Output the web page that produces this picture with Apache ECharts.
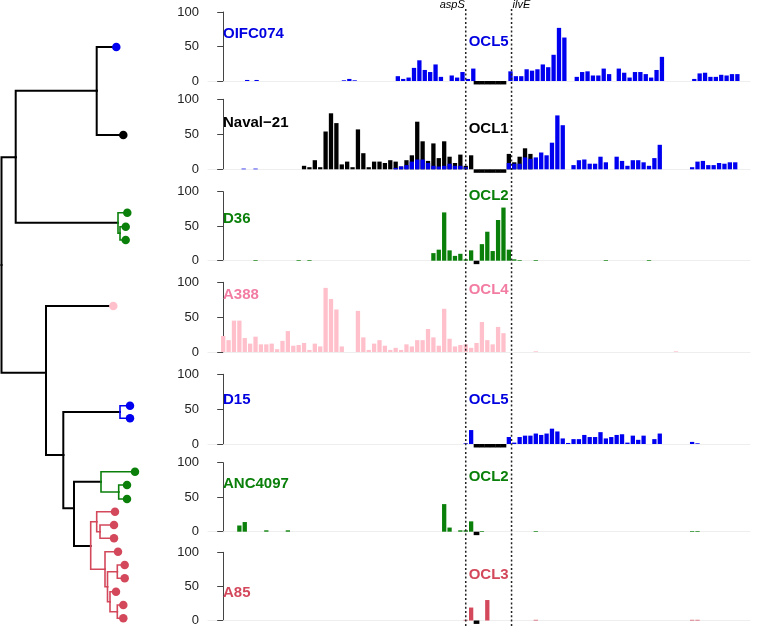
<!DOCTYPE html>
<html><head><meta charset="utf-8">
<script src="https://cdn.jsdelivr.net/npm/echarts@6/dist/echarts.min.js"></script>
<style>html,body{margin:0;padding:0;background:#fff}#c{width:757px;height:627px}</style>
</head><body><div id="c"></div>
<script>
// ================= DATA =================
const strains   = ['OIFC074', 'Naval\u221221', 'D36', 'A388', 'D15', 'ANC4097', 'A85'];
const oclLabels = ['OCL5', 'OCL1', 'OCL2', 'OCL4', 'OCL5', 'OCL2', 'OCL3'];
const geneNames = ['aspS', 'ilvE'];
const genePositions = [45.0, 53.5];          // genome bin position of the two flanking genes
const yTicks = [0, 50, 100];

// runs of bars: [start bin position, [values at start, start+1, ...]]
const oifc074Blue = [[4.45,[1.5]],[6.2,[1.5]],[22.4,[1,3,1]],[32.4,[7,3,5,19,30,16,13,24,6]],
  [42.4,[8,5,13,3,18]],[53.3,[14,7,7,17,15,17,24,20,38,77,63]],[65.6,[6,13,14,8,8,18,10]],
  [73.4,[18,12,5,13,13,10,5,16,35]],[87.4,[3,11,12,6,6,9,8,10,10]]];
const oifc074Gap  = [[47,[-5,-5,-5,-5,-5,-5]]];

const navalBlack = [[15,[5,3,13,3,54,80,66,7,11,3,57,23,3,11,11,9,13,11,4,13,20,68,40,12,37,16,40,18,9,21,5,20]],
  [53,[22,10,18,30,22]]];
const navalBlue  = [[3.8,[1]],[6,[1]],[32,[2,4,6,11,14,14,9,5,4,5,8,5,5,3]],
  [53,[9,8,8,17,15,17,24,20,38,77,63]],[65,[6,13,14,8,8,18,10]],[73,[18,12,5,13,13,10,5,16,35]],
  [87,[3,11,12,6,6,9,8,10,10]]];
const navalGap   = [[47,[-5,-5,-5,-5,-5,-5]]];

const d36Green = [[6,[1]],[14,[1]],[16,[1]],[39,[11,16,70,15,7,10,2,15]],[48,[24,42,14,59,77,16,2,1]],
  [58,[1]],[71,[1]],[79,[1]]];
const d36Gap   = [[47,[-5]]];

const a388Pink = [[0,[23,17,45,45,20,12,22,11,11,12,4,16,30,9,10,13,3,12,8,92,76,61,8]],
  [25,[59,21,3,12,17,9,3,6,3,11,8,17,17,33,21,9,62,19,8,10,11,6,13,43,17,11,36,27]],
  [58,[1]],[84,[1]]];
const a388Gap  = [];

const d15Blue = [[45,[1,20]],[53,[10,2,10,12,12,15,13,15,22,18,8,1.5,7,7,13,10,10,17,8,10,13,14,2,12,6,12]],
  [80,[7,15]],[87,[3,1]]];
const d15Gap  = [[47,[-5,-5,-5,-5,-5,-5]]];

const anc4097Green = [[3,[9,14]],[8,[2]],[12,[2]],[41,[40,6,0,2,2,15]],[48,[1]],[58,[1]],[87,[1,1]]];
const anc4097Gap   = [[47,[-5]]];

const a85Red = [[45,[1,19,0,0,30]],[58,[1]],[87,[1,1]]];
const a85Gap = [[47,[-5]]];

// tree: [id, parent, depth, y, edge colour key, tip colour key]
const treeNodes = [
  ['R',  null, 1.5, 265,  null, null],
  ['B',  'R', 15.7, 157.3, 'black', null],
  ['A',  'B', 96.7, 90.7,  'black', null],
  ['t1', 'A', 116.3, 47,   'black', 'blue'],
  ['t2', 'A', 123.3, 135,  'black', 'black'],
  ['G1', 'B', 118, 222.7,  'black', null],
  ['t3', 'G1', 127.3, 212.7, 'green', 'green'],
  ['G2', 'G1', 120, 233.3, 'green', null],
  ['t4', 'G2', 125.7, 226.7, 'green', 'green'],
  ['t5', 'G2', 125.7, 240, 'green', 'green'],
  ['C',  'R', 46, 372.7,   'black', null],
  ['t6', 'C', 113.3, 306,  'black', 'pink'],
  ['D',  'C', 63.3, 455,   'black', null],
  ['BL', 'D', 120, 412,    'black', null],
  ['t7', 'BL', 130, 405.7, 'blue', 'blue'],
  ['t8', 'BL', 130, 418.3, 'blue', 'blue'],
  ['E',  'D', 74, 508.3,   'black', null],
  ['GR', 'E', 101, 481.7,  'black', null],
  ['t9', 'GR', 135, 471.7, 'green', 'green'],
  ['GR2','GR', 118.7, 492, 'green', null],
  ['t10','GR2', 127, 485,  'green', 'green'],
  ['t11','GR2', 127, 499,  'green', 'green'],
  ['RD', 'E', 90.7, 546,   'black', null],
  ['R1', 'RD', 96.7, 521.7,'red', null],
  ['t12','R1', 115, 511.7, 'red', 'red'],
  ['R2', 'R1', 100, 531.7, 'red', null],
  ['t13','R2', 114, 525,   'red', 'red'],
  ['t14','R2', 114, 538.3, 'red', 'red'],
  ['R3', 'RD', 105, 569.3, 'red', null],
  ['t15','R3', 118, 551.7, 'red', 'red'],
  ['R4', 'R3', 107.5, 586.7,'red', null],
  ['R5', 'R4', 117.3, 571.7,'red', null],
  ['t16','R5', 124.7, 565, 'red', 'red'],
  ['t17','R5', 124.7, 578.3,'red', 'red'],
  ['R7', 'R4', 110, 601.7, 'red', null],
  ['t18','R7', 116, 591.7, 'red', 'red'],
  ['R8', 'R7', 117.3, 611.7,'red', null],
  ['t19','R8', 123.3, 605, 'red', 'red'],
  ['t20','R8', 123.3, 618.3,'red', 'red']
];

// ================= STYLE / LAYOUT =================
const COL = { blue:'#0000F0', black:'#000000', green:'#0A800A', pink:'#FFC0CB', red:'#D4485C' };
const TXT = { blue:'#0000E0', black:'#000000', green:'#0A800A', pink:'#F27CA2', red:'#D4485C' };
const FONT = '"Liberation Sans", Arial, Helvetica, sans-serif';

const panels = [
  { bars:[[oifc074Blue,'blue']], gap:oifc074Gap, tc:'blue' },
  { bars:[[navalBlack,'black'],[navalBlue,'blue']], gap:navalGap, tc:'black' },
  { bars:[[d36Green,'green']], gap:d36Gap, tc:'green' },
  { bars:[[a388Pink,'pink']], gap:a388Gap, tc:'pink' },
  { bars:[[d15Blue,'blue']], gap:d15Gap, tc:'blue' },
  { bars:[[anc4097Green,'green']], gap:anc4097Gap, tc:'green' },
  { bars:[[a85Red,'red']], gap:a85Gap, tc:'red' }
];
const panelTop  = [12, 99.3, 191.7, 282.3, 374.3, 462.7, 552.3];
const panelZero = [81, 169.3, 260.7, 352, 444, 531.7, 621.7];
const strainLabelY = [34, 123.3, 219.3, 295, 400, 484, 592.7];
const oclLabelY    = [41.7, 129.3, 196, 290, 400, 476.7, 575];
const X_MIN = -2.82, X_MAX = 97.74, GRID_LEFT = 208, GRID_RIGHT = 7;

function expand(runs) {
  const out = [];
  runs.forEach(([s, vals]) => vals.forEach((v, k) => { if (v !== 0) out.push([s + k, v]); }));
  return out;
}

const grid = [], xAxis = [], yAxis = [], series = [];
panels.forEach((p, i) => {
  grid.push({ left: GRID_LEFT, right: GRID_RIGHT, top: panelTop[i], height: panelZero[i] - panelTop[i] });
  yAxis.push({
    gridIndex: i, type: 'value', min: yTicks[0], max: yTicks[2], interval: yTicks[1] - yTicks[0],
    axisLine: { show: true, lineStyle: { color: '#444', width: 1 } },
    axisTick: { show: true, length: 6, lineStyle: { color: '#444', width: 1 } },
    axisLabel: { fontSize: 13, color: '#222', margin: 9, fontFamily: FONT },
    splitLine: { show: false }
  });
  for (let k = 0; k < 3; k++) {
    xAxis.push({
      gridIndex: i, type: 'value', min: X_MIN, max: X_MAX,
      show: k === 0,
      axisLine: { show: k === 0, onZero: true, lineStyle: { color: '#eeeeee', width: 1 } },
      axisTick: { show: false }, axisLabel: { show: false }, splitLine: { show: false }
    });
  }
  p.bars.forEach(([runs, c], k) => {
    series.push({
      type: 'bar', xAxisIndex: i * 3 + k, yAxisIndex: i, data: expand(runs),
      barWidth: 4.3, clip: false, silent: true, animation: false,
      itemStyle: { color: COL[c] }
    });
  });
  if (p.gap.length) {
    series.push({
      type: 'bar', xAxisIndex: i * 3 + 2, yAxisIndex: i, data: expand(p.gap),
      barWidth: 5.7, clip: false, silent: true, animation: false,
      itemStyle: { color: '#000' }
    });
  }
});

// tree grid
const TG = panels.length;
grid.push({ left: 0, top: 0, width: 757, height: 627 });
xAxis.push({ gridIndex: TG, type: 'value', min: 0, max: 757, show: false });
yAxis.push({ gridIndex: TG, type: 'value', min: 0, max: 627, inverse: true, show: false });

const nodeById = {};
treeNodes.forEach(n => nodeById[n[0]] = n);
const edges = [], tips = [];
treeNodes.forEach(n => {
  if (n[1] === null) return;
  const par = nodeById[n[1]];
  edges.push({
    coords: [[par[2], par[3]], [par[2], n[3]], [n[2], n[3]]],
    lineStyle: { color: COL[n[4]], width: n[4] === 'black' ? 2 : 1.6 }
  });
  if (n[5]) tips.push({ value: [n[2], n[3]], itemStyle: { color: COL[n[5]], opacity: 1 } });
});
series.push({
  type: 'lines', coordinateSystem: 'cartesian2d', xAxisIndex: xAxis.length - 1, yAxisIndex: yAxis.length - 1,
  polyline: true, data: edges, silent: true, animation: false,
  lineStyle: { cap: 'square', join: 'miter', opacity: 1 }
});
series.push({
  type: 'scatter', xAxisIndex: xAxis.length - 1, yAxisIndex: yAxis.length - 1,
  data: tips, symbolSize: 8.5, silent: true, animation: false, z: 5,
  itemStyle: { opacity: 1 }
});

const chart = echarts.init(document.getElementById('c'), null, { renderer: 'canvas' });
chart.setOption({ backgroundColor: '#fff', animation: false, grid, xAxis, yAxis, series });

// gene lines and labels
const gx = genePositions.map(g => chart.convertToPixel({ xAxisIndex: 0 }, g));
const midX = (gx[0] + gx[1]) / 2;
const graphic = [];
gx.forEach((x, j) => {
  graphic.push({ type: 'line', silent: true, z: 100,
    shape: { x1: x, y1: 9, x2: x, y2: 627 },
    style: { stroke: '#222', lineWidth: 1.5, lineDash: [2, 2.3] } });
  graphic.push({ type: 'text', silent: true, z: 100, x: j === 0 ? x - 1 : x + 1, y: 5,
    style: { text: geneNames[j], fill: '#000', font: 'italic 11px ' + FONT,
      align: j === 0 ? 'right' : 'left', verticalAlign: 'middle' } });
});
panels.forEach((p, i) => {
  graphic.push({ type: 'text', silent: true, z: 100, x: 223, y: strainLabelY[i],
    style: { text: strains[i], fill: TXT[p.tc], font: 'bold 15px ' + FONT, align: 'left', verticalAlign: 'middle' } });
  graphic.push({ type: 'text', silent: true, z: 100, x: midX, y: oclLabelY[i],
    style: { text: oclLabels[i], fill: TXT[p.tc], font: 'bold 15px ' + FONT, align: 'center', verticalAlign: 'middle' } });
});
chart.setOption({ graphic });
</script>
</body></html>
